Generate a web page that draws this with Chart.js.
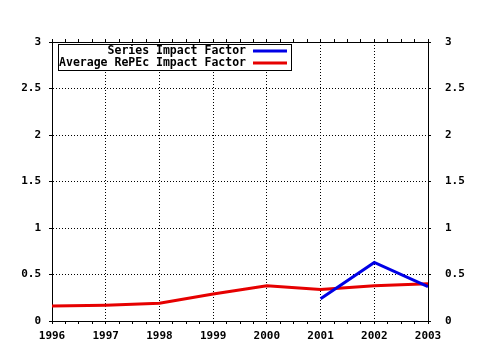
<!DOCTYPE html>
<html>
<head>
<meta charset="utf-8">
<script src="https://cdn.jsdelivr.net/npm/chart.js@4/dist/chart.umd.min.js"></script>
<style>
  html, body { margin: 0; padding: 0; background: #fff; }
  #wrap { width: 480px; height: 350px; }
</style>
</head>
<body>
<div id="wrap"><canvas id="chart" width="480" height="350"></canvas></div>
<script>
// Impact factor chart
const years = [1996, 1997, 1998, 1999, 2000, 2001, 2002, 2003];
const seriesYears = [2001, 2002, 2003];
const seriesImpact = [0.24, 0.63, 0.37];
const avgImpact = [0.16, 0.17, 0.19, 0.29, 0.38, 0.34, 0.38, 0.40];
const yTicks = ['0', '0.5', '1', '1.5', '2', '2.5', '3'];
const seriesNames = ['Series Impact Factor', 'Average RePEc Impact Factor'];
const seriesColors = ['#0000e6', '#e60000'];

const FONT = { family: '"DejaVu Sans Mono", monospace', size: 11, weight: 'bold' };
const GRID_DASH = [1, 2];

// fixed box sizes so the plot area matches the picture
function fixWidth(w) { return scale => { scale.width = w; }; }
function fixHeight(h) { return scale => { scale.height = h; }; }

// grid only on whole years, small ticks every quarter
const yearGridColor = ctx => (ctx.tick && Number.isInteger(ctx.tick.value) ? '#000' : 'rgba(0,0,0,0)');

// framed legend in the upper left corner of the plot
const boxLegend = {
  id: 'boxLegend',
  afterDraw(chart) {
    const ctx = chart.ctx;
    const x0 = chart.chartArea.left + 6;
    const y0 = chart.chartArea.top + 2;
    ctx.save();
    ctx.fillStyle = '#fff';
    ctx.fillRect(x0 + 0.5, y0 + 0.5, 233, 26);
    ctx.strokeStyle = '#000';
    ctx.lineWidth = 1;
    ctx.strokeRect(x0 + 0.5, y0 + 0.5, 233, 26);
    ctx.font = `bold 11.5px ${FONT.family}`;
    ctx.textAlign = 'right';
    ctx.textBaseline = 'middle';
    seriesNames.forEach((name, i) => {
      const y = y0 + 7 + i * 12;
      ctx.fillStyle = '#000';
      ctx.fillText(name, x0 + 188, y);
      ctx.strokeStyle = seriesColors[i];
      ctx.lineWidth = 3;
      ctx.beginPath();
      ctx.moveTo(x0 + 195, y);
      ctx.lineTo(x0 + 229, y);
      ctx.stroke();
    });
    ctx.restore();
  }
};

const yAxisBase = {
  type: 'linear',
  min: 0,
  max: 3,
  ticks: {
    stepSize: 0.5,
    color: '#000',
    font: FONT,
    padding: 8,
    callback: (v, i) => yTicks[i]
  },
  border: { display: true, color: '#000', width: 1, dash: GRID_DASH },
  grid: { color: '#000', lineWidth: 1, tickLength: 3, tickColor: '#000', tickBorderDash: [] }
};

new Chart(document.getElementById('chart'), {
  type: 'line',
  data: {
    datasets: [
      {
        label: seriesNames[0],
        data: seriesYears.map((x, i) => ({ x, y: seriesImpact[i] })),
        borderColor: seriesColors[0],
        borderWidth: 3,
        pointRadius: 0,
        tension: 0,
        xAxisID: 'x',
        yAxisID: 'y'
      },
      {
        label: seriesNames[1],
        data: years.map((x, i) => ({ x, y: avgImpact[i] })),
        borderColor: seriesColors[1],
        borderWidth: 3,
        pointRadius: 0,
        tension: 0,
        xAxisID: 'x',
        yAxisID: 'y'
      }
    ]
  },
  options: {
    responsive: false,
    animation: false,
    layout: { padding: 0 },
    plugins: { legend: { display: false }, tooltip: { enabled: false } },
    scales: {
      x: {
        type: 'linear',
        position: 'bottom',
        min: years[0],
        max: years[years.length - 1],
        afterFit: fixHeight(29),
        ticks: {
          stepSize: 0.25,
          autoSkip: false,
          color: '#000',
          font: FONT,
          padding: 6,
          maxRotation: 0,
          callback: v => (Number.isInteger(v) ? String(v) : '')
        },
        border: { display: true, color: '#000', width: 1, dash: GRID_DASH },
        grid: { color: yearGridColor, lineWidth: 1, tickLength: 3, tickColor: '#000', tickBorderDash: [] }
      },
      xTop: {
        type: 'linear',
        position: 'top',
        min: years[0],
        max: years[years.length - 1],
        afterFit: fixHeight(42),
        ticks: { stepSize: 0.25, autoSkip: false, display: false },
        border: { display: true, color: '#000', width: 1 },
        grid: { drawOnChartArea: false, drawTicks: true, tickLength: 3, tickColor: '#000' }
      },
      y: Object.assign({}, yAxisBase, { position: 'left', afterFit: fixWidth(52) }),
      yRight: Object.assign({}, yAxisBase, {
        position: 'right',
        afterFit: fixWidth(52),
        ticks: Object.assign({}, yAxisBase.ticks, { padding: 14 }),
        grid: { drawOnChartArea: false, tickLength: 3, tickColor: '#000' },
        border: { display: true, color: '#000', width: 1 }
      })
    }
  },
  plugins: [boxLegend]
});
</script>
</body>
</html>
